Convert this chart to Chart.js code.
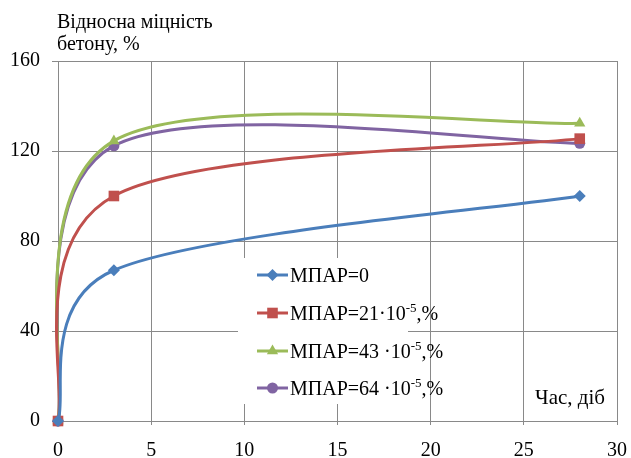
<!DOCTYPE html>
<html>
<head>
<meta charset="utf-8">
<script src="https://cdn.jsdelivr.net/npm/chart.js@4/dist/chart.umd.min.js"></script>
<style>
  html, body { margin: 0; padding: 0; background: #fff; }
  #wrap { width: 631px; height: 458px; position: relative; }
</style>
</head>
<body>
<div id="wrap"><canvas id="grafico"></canvas></div>
<script>
// ---------- дані ----------
const days = [0, 3, 28];
const mpar0 = [0, 67, 100];
const mpar21 = [0, 100, 125.5];
const mpar43 = [0, 124.5, 132.3];
const mpar64 = [0, 122.3, 123.4];

const seriesNames = ["МПАР=0", "МПАР=21·10^-5,%", "МПАР=43 ·10^-5,%", "МПАР=64 ·10^-5,%"];
const xTicks = [0, 5, 10, 15, 20, 25, 30];
const yTicks = [0, 40, 80, 120, 160];

const yTitle = ["Відносна міцність", "бетону, %"];
const xTitle = "Час, діб";

// ---------- стилі ----------
const colors = {
  blue: "#4a7ebb",
  red: "#c0504d",
  green: "#9bbb59",
  purple: "#8064a2",
  grid: "#898989",
};
const FONT = "'Liberation Serif', 'Times New Roman', serif";

function toXY(ys) {
  return ys.map((y, i) => ({ x: days[i], y: y }));
}

const datasets = [
  { label: seriesNames[0], data: toXY(mpar0), borderColor: colors.blue, backgroundColor: colors.blue, pointStyle: "rectRot", pointRadius: 6 },
  { label: seriesNames[1], data: toXY(mpar21), borderColor: colors.red, backgroundColor: colors.red, pointStyle: "rect", pointRadius: 7.5 },
  { label: seriesNames[2], data: toXY(mpar43), borderColor: colors.green, backgroundColor: colors.green, pointStyle: "triangle", pointRadius: 6.5 },
  { label: seriesNames[3], data: toXY(mpar64), borderColor: colors.purple, backgroundColor: colors.purple, pointStyle: "circle", pointRadius: 5.5 },
];
datasets.forEach((d) => {
  d.borderWidth = 3;
  d.tension = 0.4;
  d.pointBorderWidth = 0;
  d.pointHoverRadius = d.pointRadius;
  d.clip = 10;
});

// згладжування як у Excel: дотична по сусідніх точках, довжина 1/6
const excelSmooth = {
  id: "excelSmooth",
  beforeDatasetDraw(chart, args) {
    const meta = args.meta;
    meta.dataset.updateControlPoints(chart.chartArea, "x");
    const pts = meta.data;
    const n = pts.length;
    const f = 1 / 6;
    for (let i = 0; i < n; i++) {
      const cur = pts[i];
      const prev = pts[Math.max(i - 1, 0)];
      const next = pts[Math.min(i + 1, n - 1)];
      const dx = next.x - prev.x;
      const dy = next.y - prev.y;
      const d = Math.hypot(dx, dy) || 1;
      const lPrev = Math.min(d * f, Math.hypot(cur.x - prev.x, cur.y - prev.y) / 2);
      const lNext = Math.min(d * f, Math.hypot(next.x - cur.x, next.y - cur.y) / 2);
      cur.cp1x = cur.x - (dx / d) * lPrev;
      cur.cp1y = cur.y - (dy / d) * lPrev;
      cur.cp2x = cur.x + (dx / d) * lNext;
      cur.cp2y = cur.y + (dy / d) * lNext;
    }
  },
};

// підписи осей і легенда всередині графіка
const extras = {
  id: "extras",
  afterDraw(chart) {
    const ctx = chart.ctx;
    ctx.save();
    ctx.fillStyle = "#000";
    ctx.font = "20px " + FONT;
    ctx.textAlign = "left";
    ctx.textBaseline = "alphabetic";
    ctx.fillText(yTitle[0], 57, 28);
    ctx.fillText(yTitle[1], 57, 50);
    ctx.font = "21px " + FONT;
    ctx.fillText(xTitle, 535, 404);

    // легенда
    ctx.fillStyle = "#fff";
    ctx.fillRect(238, 258, 170, 146);
    const rows = [275, 313, 351, 388];
    datasets.forEach((ds, i) => {
      const y = rows[i];
      ctx.strokeStyle = ds.borderColor;
      ctx.lineWidth = 3;
      ctx.beginPath();
      ctx.moveTo(257, y);
      ctx.lineTo(288, y);
      ctx.stroke();
      ctx.fillStyle = ds.backgroundColor;
      Chart.helpers.drawPoint(ctx, { pointStyle: ds.pointStyle, radius: ds.pointRadius, rotation: 0, borderWidth: 0 }, 272.5, y);

      const m = ds.label.match(/^(.*?)\^(-?\d+)(.*)$/);
      const main = m ? m[1] : ds.label;
      ctx.fillStyle = "#000";
      ctx.font = "20px " + FONT;
      ctx.textBaseline = "alphabetic";
      let x = 290;
      ctx.fillText(main, x, y + 7);
      x += ctx.measureText(main).width;
      if (m) {
        ctx.font = "13px " + FONT;
        ctx.fillText(m[2], x, y - 1);
        x += ctx.measureText(m[2]).width;
        ctx.font = "20px " + FONT;
        ctx.fillText(m[3], x, y + 7);
      }
    });
    ctx.restore();
  },
};

new Chart(document.getElementById("grafico"), {
  type: "line",
  data: { datasets: datasets },
  plugins: [excelSmooth, extras],
  options: {
    responsive: true,
    maintainAspectRatio: false,
    animation: false,
    layout: { autoPadding: false, padding: { top: 61, right: 14, left: 0, bottom: 0 } },
    plugins: {
      legend: { display: false },
      tooltip: { enabled: false },
    },
    scales: {
      x: {
        type: "linear",
        min: xTicks[0],
        max: xTicks[xTicks.length - 1],
        afterBuildTicks: (s) => { s.ticks = xTicks.map((v) => ({ value: v })); },
        afterFit: (s) => {
          s.height = 37;
          s.paddingLeft = 0;
          s.paddingRight = 10;
        },
        grid: { color: colors.grid, tickLength: 4, lineWidth: 1 },
        border: { color: colors.grid, width: 1 },
        ticks: { color: "#000", font: { family: FONT, size: 20 }, padding: 14, maxRotation: 0 },
      },
      y: {
        min: yTicks[0],
        max: yTicks[yTicks.length - 1],
        afterBuildTicks: (s) => { s.ticks = yTicks.map((v) => ({ value: v })); },
        afterFit: (s) => { s.width = 58; },
        grid: { color: colors.grid, tickLength: 6, lineWidth: 1 },
        border: { color: colors.grid, width: 1 },
        ticks: { color: "#000", font: { family: FONT, size: 20 }, padding: 12 },
      },
    },
  },
});
</script>
</body>
</html>
